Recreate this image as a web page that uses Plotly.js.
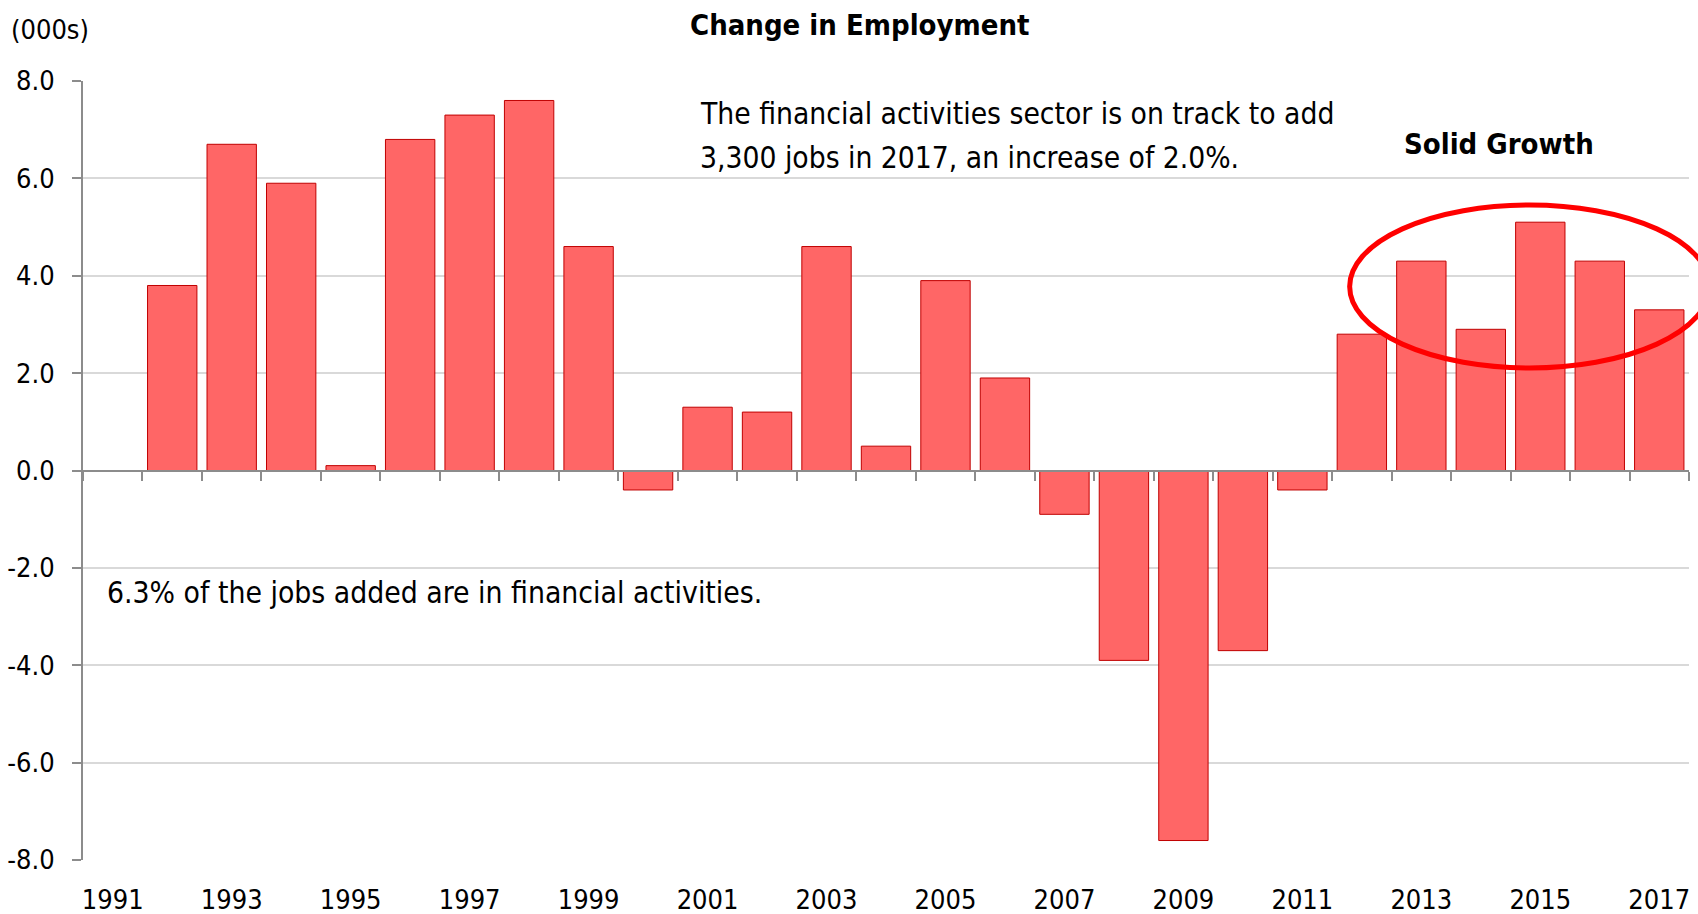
<!DOCTYPE html>
<html>
<head>
<meta charset="utf-8">
<script src="https://cdn.plot.ly/plotly-3.0.1.min.js"></script>
<style>html,body{margin:0;padding:0;background:#fff;}#chart{width:1698px;height:914px;}</style>
</head>
<body>
<div id="chart"></div>
<script>
var years = [1991,1992,1993,1994,1995,1996,1997,1998,1999,2000,2001,2002,2003,2004,2005,2006,2007,2008,2009,2010,2011,2012,2013,2014,2015,2016,2017];
var changeInEmployment = [null,3.8,6.7,5.9,0.1,6.8,7.3,7.6,4.6,-0.4,1.3,1.2,4.6,0.5,3.9,1.9,-0.9,-3.9,-7.6,-3.7,-0.4,2.8,4.3,2.9,5.1,4.3,3.3];
var labelYears = [1991,1993,1995,1997,1999,2001,2003,2005,2007,2009,2011,2013,2015,2017];
var yTicks = [-8,-6,-4,-2,0,2,4,6,8];
var yTickText = ["-8.0","-6.0","-4.0","-2.0","0.0","2.0","4.0","6.0","8.0"];

var FONT = '"Liberation Sans Narrow", "Arial Narrow", "DejaVu Sans Condensed", sans-serif';

var trace = {
  type: 'bar',
  x: years,
  y: changeInEmployment,
  marker: {color: '#FF6666', line: {color: '#C00000', width: 1}},
  hoverinfo: 'x+y'
};

var layout = {
  width: 1698, height: 914,
  margin: {l: 83, r: 9, t: 81, b: 54},
  paper_bgcolor: '#ffffff', plot_bgcolor: '#ffffff',
  showlegend: false,
  bargap: 0.17,
  font: {family: FONT, color: '#000000', size: 27},
  xaxis: {
    range: [1990.5, 2017.5],
    tickmode: 'array', tickvals: labelYears, ticktext: labelYears.map(String),
    showgrid: false, zeroline: false, showline: false, ticks: '',
    ticklabelstandoff: 21,
    tickfont: {family: FONT, size: 27, color: '#000'}
  },
  xaxis2: {
    overlaying: 'x', anchor: 'free', position: 0.5,
    range: [1990.5, 2017.5],
    tickmode: 'linear', tick0: 1990.5, dtick: 1,
    showticklabels: false, showgrid: false, zeroline: false,
    showline: true, linecolor: '#8C8C8C', linewidth: 2,
    ticks: 'outside', ticklen: 9, tickcolor: '#8C8C8C', tickwidth: 2
  },
  yaxis: {
    range: [-8, 8],
    tickmode: 'array', tickvals: yTicks, ticktext: yTickText,
    showgrid: true, gridcolor: '#D9D9D9', gridwidth: 2,
    zeroline: false,
    showline: true, linecolor: '#8C8C8C', linewidth: 2,
    ticks: 'outside', ticklen: 9, tickcolor: '#8C8C8C', tickwidth: 2,
    ticklabelstandoff: 12,
    tickfont: {family: FONT, size: 27, color: '#000'}
  },
  annotations: [
    {xref: 'paper', yref: 'paper', x: 0.4836, y: 1.072, xanchor: 'center', yanchor: 'middle', showarrow: false,
     text: '<b>Change in Employment</b>', font: {family: FONT, size: 29, color: '#000'}},
    {xref: 'paper', yref: 'paper', x: -0.046, y: 1.0655, xanchor: 'left', yanchor: 'middle', showarrow: false,
     text: '(000s)', font: {family: FONT, size: 27, color: '#000'}},
    {xref: 'paper', yref: 'paper', x: 0.3828, y: 0.9589, xanchor: 'left', yanchor: 'middle', showarrow: false,
     text: 'The financial activities sector is on track to add', font: {family: FONT, size: 29.7, color: '#000'}},
    {xref: 'paper', yref: 'paper', x: 0.3828, y: 0.9012, xanchor: 'left', yanchor: 'middle', showarrow: false,
     text: '3,300 jobs in 2017, an increase of 2.0%.', font: {family: FONT, size: 29.7, color: '#000'}},
    {xref: 'paper', yref: 'paper', x: 0.0134, y: 0.3428, xanchor: 'left', yanchor: 'middle', showarrow: false,
     text: '6.3% of the jobs added are in financial activities.', font: {family: FONT, size: 29.8, color: '#000'}},
    {xref: 'paper', yref: 'paper', x: 0.8815, y: 0.919, xanchor: 'center', yanchor: 'middle', showarrow: false,
     text: '<b>Solid Growth</b>', font: {family: FONT, size: 29, color: '#000'}}
  ],
  shapes: [
    {type: 'circle', xref: 'paper', yref: 'paper', x0: 0.7887, x1: 1.0128, y0: 0.6316, y1: 0.8408,
     line: {color: '#FF0000', width: 5}, fillcolor: 'rgba(0,0,0,0)', layer: 'above'}
  ]
};

Plotly.newPlot('chart', [Object.assign({xaxis: 'x', yaxis: 'y'}, trace),
  {type: 'scatter', x: [1990.5, 2017.5], y: [0, 0], xaxis: 'x2', yaxis: 'y', mode: 'none', hoverinfo: 'skip', showlegend: false}],
  layout, {displayModeBar: false, staticPlot: true});
</script>
</body>
</html>
